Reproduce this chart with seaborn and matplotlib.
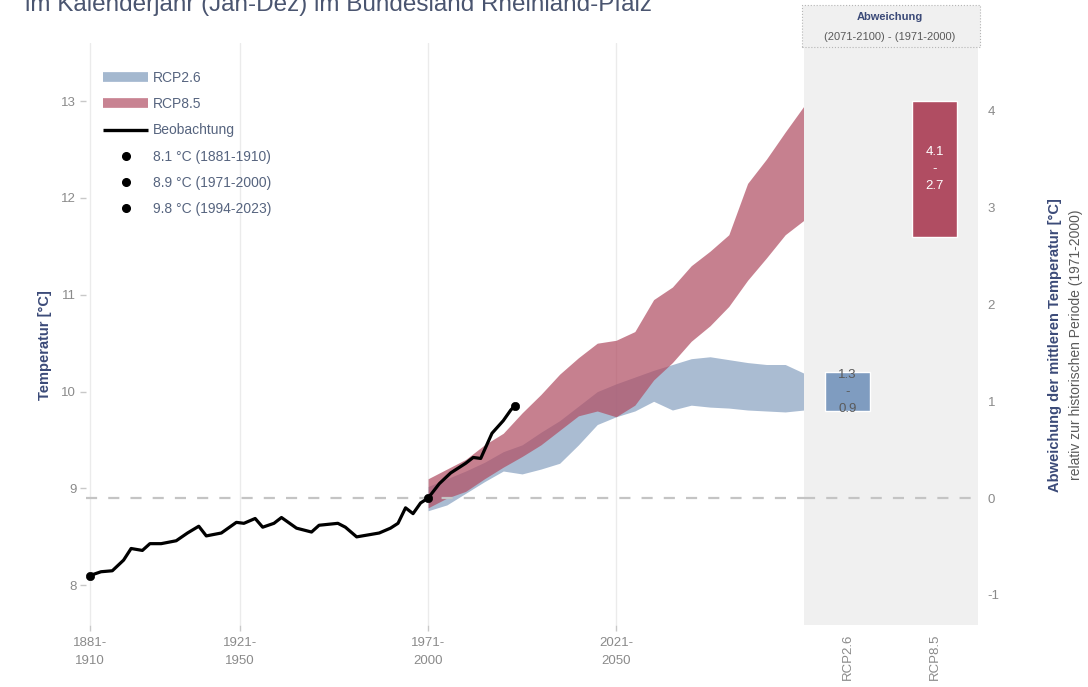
import matplotlib
matplotlib.use("Agg")
import matplotlib.pyplot as plt
from matplotlib.lines import Line2D
from matplotlib.patches import Rectangle
import seaborn as sns
import pandas as pd

# ---------------- data ----------------
obs_years = [1910, 1913, 1916, 1919, 1921, 1924, 1926, 1929, 1933, 1936, 1939, 1941,
             1945, 1949, 1951, 1954, 1956, 1959, 1961, 1965, 1969, 1971, 1976, 1978,
             1981, 1984, 1987, 1990, 1992, 1994, 1996, 1998, 2000, 2003, 2006, 2010,
             2012, 2014, 2017, 2020, 2022, 2023]
obs_temp = [8.10, 8.14, 8.15, 8.26, 8.38, 8.36, 8.43, 8.43, 8.46, 8.54, 8.61, 8.51,
            8.54, 8.65, 8.64, 8.69, 8.60, 8.64, 8.70, 8.59, 8.55, 8.62, 8.64, 8.60,
            8.50, 8.52, 8.54, 8.59, 8.64, 8.80, 8.74, 8.85, 8.90, 9.05, 9.16, 9.26,
            9.32, 9.31, 9.57, 9.70, 9.81, 9.85]

marker_years = [1910, 2000, 2023]
marker_temp = [8.10, 8.90, 9.85]
marker_labels = ["8.1 °C (1881-1910)", "8.9 °C (1971-2000)", "9.8 °C (1994-2023)"]

proj_years = [2000, 2005, 2010, 2015, 2020, 2025, 2030, 2035, 2040, 2045, 2050,
              2055, 2060, 2065, 2070, 2075, 2080, 2085, 2090, 2095, 2100]
rcp26_low = [8.77, 8.83, 8.95, 9.07, 9.18, 9.15, 9.20, 9.26, 9.45, 9.66, 9.74,
             9.80, 9.90, 9.81, 9.86, 9.84, 9.83, 9.81, 9.80, 9.79, 9.81]
rcp26_high = [9.02, 9.10, 9.18, 9.27, 9.38, 9.45, 9.58, 9.70, 9.85, 10.00, 10.08,
              10.15, 10.22, 10.28, 10.34, 10.36, 10.33, 10.30, 10.28, 10.28, 10.19]
rcp85_low = [8.80, 8.90, 8.97, 9.10, 9.22, 9.33, 9.45, 9.60, 9.75, 9.80, 9.74,
             9.86, 10.12, 10.30, 10.52, 10.68, 10.88, 11.15, 11.38, 11.62, 11.77]
rcp85_high = [9.10, 9.20, 9.30, 9.45, 9.57, 9.78, 9.97, 10.18, 10.35, 10.50, 10.53,
              10.62, 10.95, 11.08, 11.30, 11.45, 11.62, 12.15, 12.40, 12.68, 12.95]

baseline = 8.9
scenarios = ["RCP2.6", "RCP8.5"]
dev_low = [0.9, 2.7]
dev_high = [1.3, 4.1]

xtick_pos = [1910, 1950, 2000, 2050]
xtick_labels = ["1881-\n1910", "1921-\n1950", "1971-\n2000", "2021-\n2050"]
ytick_left = [8, 9, 10, 11, 12, 13]
ytick_right = [-1, 0, 1, 2, 3, 4]

# ---------------- style ----------------
sns.set_theme(style="white")
plt.rcParams["font.family"] = ["Liberation Sans", "DejaVu Sans"]

C26_BAND = "#86a0c0"
C85_BAND = "#b14f64"
C26_BAR = "#7f9cc0"
C85_BAR = "#b04d62"
TICK_C = "#8a8a8a"
TITLE_C = "#3b4a78"
LEG_C = "#56647f"

W, H = 1088, 687
fig = plt.figure(figsize=(W / 100, H / 100), dpi=100)


def rect(x0, y0, x1, y1):
    return [x0 / W, 1 - y1 / H, (x1 - x0) / W, (y1 - y0) / H]


ax = fig.add_axes(rect(86, 43, 804, 625))
axp = fig.add_axes(rect(804, 43, 978, 625))

ylim = (7.59, 13.6)
ax.set_xlim(1909, 2100)
ax.set_ylim(*ylim)

# vertical grid
ax.grid(axis="x", color="#ebebeb", lw=1)
ax.grid(axis="y", visible=False)
ax.set_axisbelow(True)

# bands
ax.fill_between(proj_years, rcp26_low, rcp26_high, color=C26_BAND, alpha=0.7, lw=0)
ax.fill_between(proj_years, rcp85_low, rcp85_high, color=C85_BAND, alpha=0.72, lw=0)

# baseline dashed
ax.axhline(baseline, color="#c4c4c4", lw=1.6, ls=(0, (5, 5)), zorder=1)

# observations
obs = pd.DataFrame({"year": obs_years, "temp": obs_temp})
sns.lineplot(data=obs, x="year", y="temp", ax=ax, color="black", lw=2.3, zorder=5)
mk = pd.DataFrame({"year": marker_years, "temp": marker_temp})
sns.scatterplot(data=mk, x="year", y="temp", ax=ax, color="black", s=36,
                edgecolor="black", zorder=6, clip_on=False)

ax.set_xticks(xtick_pos)
ax.set_xticklabels(xtick_labels, linespacing=1.6)
ax.set_yticks(ytick_left)
ax.set_yticklabels([str(v) for v in ytick_left])
ax.tick_params(axis="both", colors="#c8c8c8", labelcolor=TICK_C, labelsize=9.5,
               length=4, width=1, direction="out")
ax.tick_params(axis="x", pad=5, bottom=True)
ax.tick_params(axis="y", left=True, pad=3)
ax.set_xlabel("")
ax.set_ylabel("")
for s in ax.spines.values():
    s.set_visible(False)

# legend
handles = [
    Line2D([0], [0], color=C26_BAND, alpha=0.75, lw=7, solid_capstyle="butt"),
    Line2D([0], [0], color=C85_BAND, alpha=0.7, lw=7, solid_capstyle="butt"),
    Line2D([0], [0], color="black", lw=2.4, solid_capstyle="butt"),
] + [Line2D([0], [0], color="black", marker="o", ls="none", markersize=5.5)
     for _ in marker_labels]
labels = ["RCP2.6", "RCP8.5", "Beobachtung"] + marker_labels
leg = ax.legend(handles, labels, loc="upper left", bbox_to_anchor=(0.024, 0.952),
                frameon=False, fontsize=10, handlelength=3.25, handletextpad=0.35,
                labelspacing=0.88, borderpad=0, borderaxespad=0)
for t in leg.get_texts():
    t.set_color(LEG_C)

# ---------------- right panel ----------------
axp.set_facecolor("#f0f0f0")
axp.set_xlim(-0.5, 1.5)
axp.set_ylim(ylim[0] - baseline, ylim[1] - baseline)
axp.bar([0, 1], [h - l for h, l in zip(dev_high, dev_low)], bottom=dev_low,
        width=0.52, color=[C26_BAR, C85_BAR], zorder=3)
axp.axhline(0, color="#c4c4c4", lw=1.6, ls=(0, (5, 5)), zorder=1)
axp.text(0, (dev_low[0] + dev_high[0]) / 2, f"{dev_high[0]}\n-\n{dev_low[0]}",
         ha="center", va="center", fontsize=9.5, color="#5a5a5a", linespacing=1.55, zorder=4)
axp.text(1, (dev_low[1] + dev_high[1]) / 2, f"{dev_high[1]}\n-\n{dev_low[1]}",
         ha="center", va="center", fontsize=9.5, color="white", linespacing=1.55, zorder=4)
axp.set_xticks([0, 1])
axp.set_xticklabels(scenarios, rotation=90, va="top")
axp.set_yticks(ytick_right)
axp.set_yticklabels([str(v) for v in ytick_right])
axp.yaxis.tick_right()
axp.tick_params(axis="y", right=False, left=False, labelright=True, labelleft=False,
                length=0, pad=7, labelcolor=TICK_C, labelsize=9.5)
axp.tick_params(axis="x", length=0, pad=6, labelcolor=TICK_C, labelsize=9.5)
axp.grid(False)
for s in axp.spines.values():
    s.set_visible(False)

# header box
fig.patches.append(Rectangle((802 / W, 1 - 47 / H), 178 / W, 42 / H,
                             transform=fig.transFigure, facecolor="#f0f0f0",
                             edgecolor="#b5b5b5", lw=0.8, ls=":", zorder=0))
fig.text(890 / W, 1 - 17 / H, "Abweichung", ha="center", va="center",
         fontsize=8, fontweight="bold", color=TITLE_C)
fig.text(890 / W, 1 - 37 / H, "(2071-2100) - (1971-2000)", ha="center", va="center",
         fontsize=8, color="#5a5a5a")

# axis titles
fig.text(45 / W, 1 - 345 / H, "Temperatur [°C]", rotation=90, ha="center", va="center",
         fontsize=10.5, fontweight="bold", color=TITLE_C)
fig.text(1055 / W, 1 - 345 / H, "Abweichung der mittleren Temperatur [°C]", rotation=90,
         ha="center", va="center", fontsize=10.5, fontweight="bold", color=TITLE_C)
fig.text(1076 / W, 1 - 345 / H, "relativ zur historischen Periode (1971-2000)", rotation=90,
         ha="center", va="center", fontsize=10, color="#5a5a5a")

# partially visible title line (cut at the top edge as in the reference)
fig.text(25 / W, 1 - 11 / H, "im Kalenderjahr (Jan-Dez) im Bundesland Rheinland-Pfalz",
         ha="left", va="baseline", fontsize=17.5, color="#4a5570")

fig.savefig("out.png", dpi=100)
